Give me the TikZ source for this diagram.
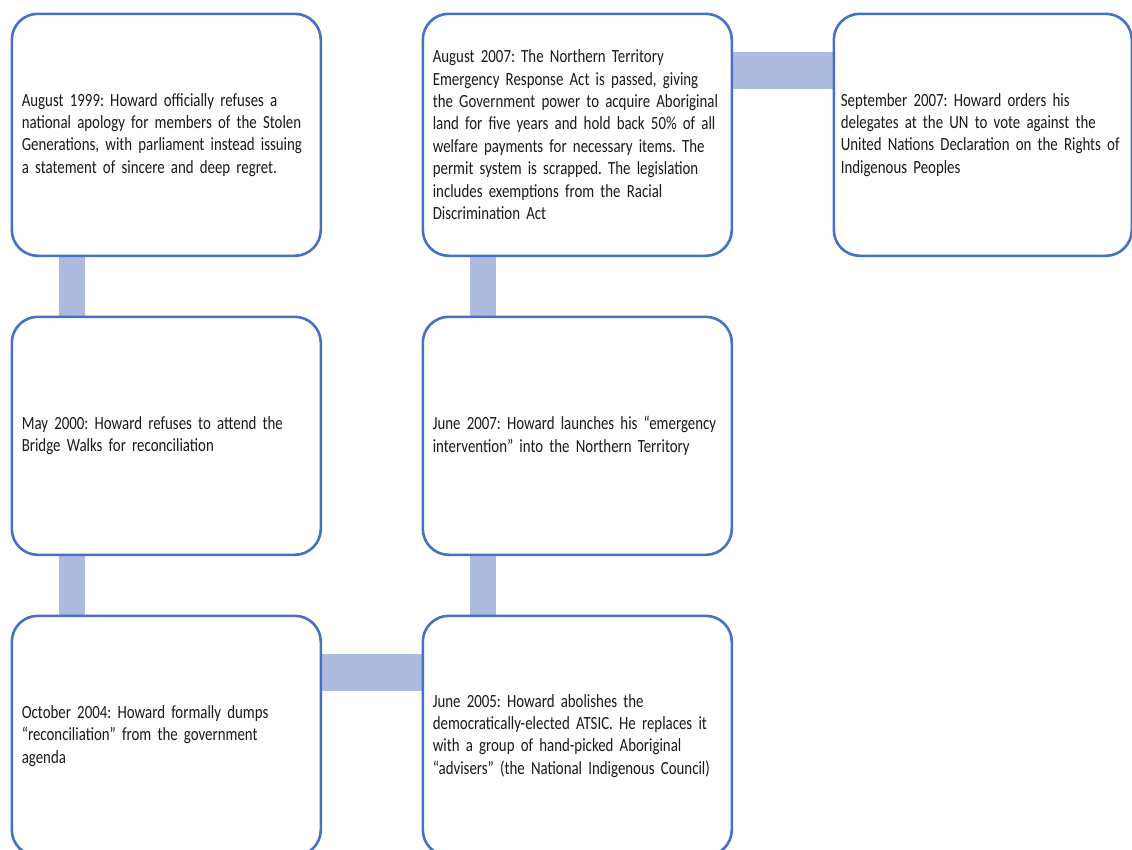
\documentclass[tikz,border=0pt]{standalone}
\usepackage{fontspec}
\setmainfont{Carlito}[FakeStretch=0.8]
\usepackage{xcolor}
\usetikzlibrary{backgrounds}
\definecolor{tblue}{HTML}{4472C4}
\definecolor{tbar}{HTML}{AEBBDF}
\definecolor{ttext}{HTML}{1A1A1A}
\frenchspacing

\begin{document}
\begin{tikzpicture}[x=1pt, y=-1pt,
  event/.style={draw=tblue, line width=2.6pt, fill=white, rounded corners=26pt,
    anchor=north west, minimum height=240pt, text width=289pt, inner xsep=10pt,
    align=left, text=ttext, font=\fontsize{18.6}{22.4}\selectfont},
  vlink/.style={draw=tbar, line width=26pt},
  hlink/.style={draw=tbar, line width=37pt}]
\useasboundingbox (0,0) rectangle (1132,849);
% left column
\node[event, minimum height=242pt] (aug99) at (10.5,12.5)
  {August 1999: Howard officially refuses a\\national apology for members of the Stolen\\Generations, with parliament instead issuing\\a statement of sincere and deep regret.};
\node[event, minimum height=238pt] (may00) at (10.5,315.5)
  {May 2000: Howard refuses to attend the\\Bridge Walks for reconciliation};
\node[event] (oct04) at (10.5,614.5)
  {October 2004: Howard formally dumps\\“reconciliation” from the government\\agenda};
% middle column
\node[event] (jun05) at (421.5,614.5)
  {June 2005: Howard abolishes the\\democratically-elected ATSIC. He replaces it\\with a group of hand-picked Aboriginal\\“advisers” (the National Indigenous Council)};
\node[event, minimum height=238pt] (jun07) at (421.5,315.5)
  {June 2007: Howard launches his “emergency\\intervention” into the Northern Territory};
\node[event, minimum height=242pt] (aug07) at (421.5,12.5)
  {August 2007: The Northern Territory\\Emergency Response Act is passed, giving\\the Government power to acquire Aboriginal\\land for five years and hold back 50\% of all\\welfare payments for necessary items. The\\permit system is scrapped. The legislation\\includes exemptions from the Racial\\Discrimination Act};
% right column
\node[event, minimum height=242pt, text width=284pt, inner xsep=7pt] (sep07) at (832.5,12.5)
  {September 2007: Howard orders his\\delegates at the UN to vote against the\\United Nations Declaration on the Rights of\\Indigenous Peoples};
% links
\begin{scope}[on background layer]
\draw[vlink] ([xshift=61.5pt]aug99.south west) -- ([xshift=61.5pt]may00.north west);
\draw[vlink] ([xshift=61.5pt]may00.south west) -- ([xshift=61.5pt]oct04.north west);
\draw[hlink] ([yshift=-58pt]oct04.north east) -- ([yshift=-58pt]jun05.north west);
\draw[vlink] ([xshift=61.5pt]jun05.north west) -- ([xshift=61.5pt]jun07.south west);
\draw[vlink] ([xshift=61.5pt]jun07.north west) -- ([xshift=61.5pt]aug07.south west);
\draw[hlink] ([yshift=-58pt]aug07.north east) -- ([yshift=-58pt]sep07.north west);
\end{scope}
\end{tikzpicture}
\end{document}
